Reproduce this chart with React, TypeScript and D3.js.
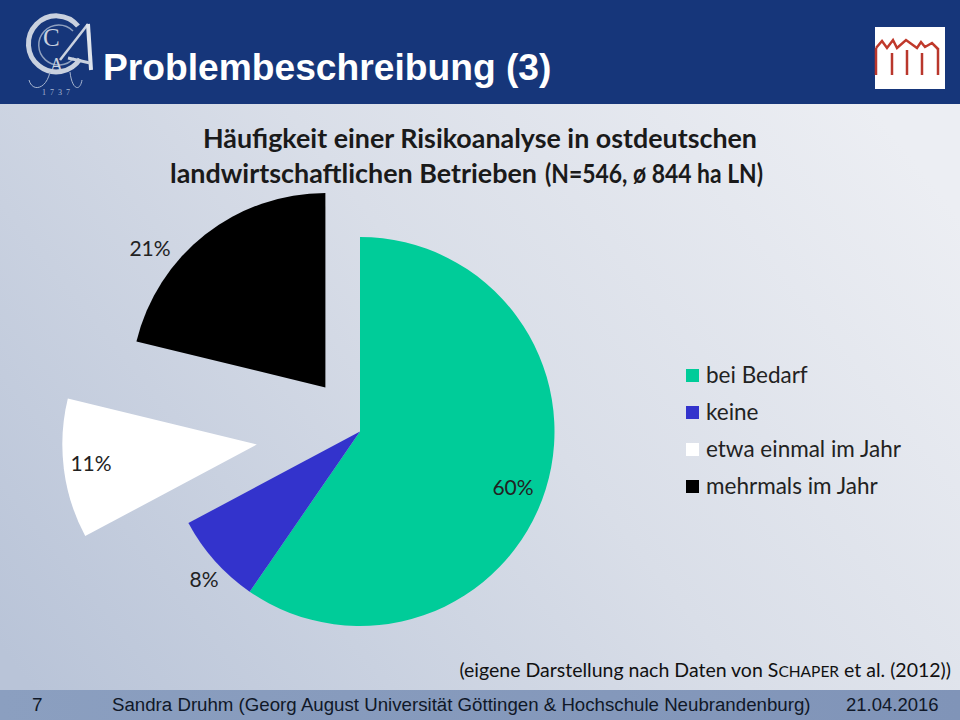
import * as d3 from 'd3';

const categories = ['bei Bedarf', 'keine', 'etwa einmal im Jahr', 'mehrmals im Jahr'];
// shares, the printed labels are rounded
const shares = [59.6, 7.6, 11.6, 21.2];
const labels = ['60%', '8%', '11%', '21%'];
const sliceColors = ['#00cc99', '#3333cc', '#ffffff', '#000000'];
const explode = [0, 0, 104, 56];
const labelPos = [[513, 490], [204, 582], [91, 466], [150, 251]];

const W = 960;
const H = 720;
const cx = 360;
const cy = 431.5;
const radius = 194.5;
const bodyFont = 'Lato, "Open Sans", sans-serif';
const headFont = '"Liberation Sans", Arial, sans-serif';

const pie = d3.pie<number>().sort(null)(shares);
const arc = d3.arc<d3.PieArcDatum<number>>().innerRadius(0).outerRadius(radius);

const legendY = d3.scalePoint<string>().domain(categories).range([376, 487]);

const roofLine = d3.line()([
  [876, 48], [882, 41], [887, 48], [893, 40], [897, 48], [906, 40], [917, 48],
  [921, 42], [925, 47], [932, 43], [938, 49],
]);

function Logo() {
  return (
    <g fill="none">
      <path d="M78 26 A28 28 0 1 0 80 59" stroke="#c9d1df" strokeWidth={5} />
      <path d="M73 31 A20 20 0 1 0 74 58" stroke="#8fa0bf" strokeWidth={1.5} />
      <path d="M88 24 L60 60" stroke="#c9d1df" strokeWidth={2.5} />
      <path d="M88 24 L91 70" stroke="#dfe4ec" strokeWidth={4} />
      <path d="M68 58 L90 63" stroke="#c9d1df" strokeWidth={3} />
      <path d="M29 80 C32 92 46 90 50 72 M70 72 C72 90 80 92 82 80" stroke="#a8b6d0" strokeWidth={1} />
      <text x={43} y={46} fontFamily="Liberation Serif, serif" fontSize={25} fill="#c9d1df">C</text>
      <text x={50} y={71} fontFamily="Liberation Serif, serif" fontSize={18} fill="#c9d1df">A</text>
      <text x={58} y={95} textAnchor="middle" fontFamily="Liberation Serif, serif" fontSize={8} letterSpacing={4} fill="#a8b6d0">1737</text>
    </g>
  );
}

function Wordmark() {
  return (
    <g>
      <rect x={875} y={27} width={70} height={62} fill="#ffffff" />
      <path d={roofLine ?? ''} fill="none" stroke="#c0392b" strokeWidth={2.5} />
      <g stroke="#b9372c" strokeWidth={2.5}>
        {[876, 892, 907, 922, 938].map((x, i) => (
          <line key={x} x1={x} x2={x} y1={i === 0 || i === 4 ? 48 : i === 2 ? 50 : 53} y2={75} />
        ))}
      </g>
    </g>
  );
}

export default function App() {
  return (
    <svg width={W} height={H} style={{ position: 'absolute', left: 0, top: 0 }}>
      <defs>
        <linearGradient id="bg" x1="0" y1="0.9" x2="1" y2="0.3">
          <stop offset="0" stopColor="#b9c4d8" />
          <stop offset="0.55" stopColor="#d9dee8" />
          <stop offset="1" stopColor="#eceef3" />
        </linearGradient>
        <linearGradient id="foot" x1="0" y1="0" x2="1" y2="0">
          <stop offset="0" stopColor="#8b9fc0" />
          <stop offset="1" stopColor="#8094b8" />
        </linearGradient>
      </defs>

      <rect width={W} height={H} fill="url(#bg)" />
      <rect width={W} height={104} fill="#16367a" />
      <rect y={690} width={W} height={30} fill="url(#foot)" />

      <Logo />
      <text x={103} y={80} fontFamily={headFont} fontWeight={700} fontSize={37.2} fill="#ffffff">
        Problembeschreibung (3)
      </text>
      <Wordmark />

      <g fontFamily={bodyFont} fontWeight={700} fontSize={26.5} fill="#1a1a1a">
        <text x={203} y={148} textLength={554} lengthAdjust="spacingAndGlyphs">
          Häufigkeit einer Risikoanalyse in ostdeutschen
        </text>
        <text x={170} y={183} textLength={367} lengthAdjust="spacingAndGlyphs">
          landwirtschaftlichen Betrieben
        </text>
        <text x={545} y={183} textLength={218} lengthAdjust="spacingAndGlyphs">
          (N=546, ø 844 ha LN)
        </text>
      </g>

      {pie.map((d, i) => {
        const mid = (d.startAngle + d.endAngle) / 2;
        const dx = Math.sin(mid) * explode[i];
        const dy = -Math.cos(mid) * explode[i];
        return (
          <path key={categories[i]} d={arc(d) ?? ''} transform={`translate(${cx + dx},${cy + dy})`} fill={sliceColors[i]} />
        );
      })}

      {labels.map((t, i) => (
        <text key={t} x={labelPos[i][0]} y={labelPos[i][1]} textAnchor="middle" dominantBaseline="middle" fontFamily={bodyFont} fontSize={21} fill="#222222">
          {t}
        </text>
      ))}

      {categories.map((c, i) => (
        <g key={c}>
          <rect x={686} y={(legendY(c) ?? 0) - 7} width={13} height={13} fill={sliceColors[i]} />
          <text x={706} y={(legendY(c) ?? 0) + 7} fontFamily={bodyFont} fontSize={22.5} fill="#222222">
            {c}
          </text>
        </g>
      ))}

      <text x={951} y={677} textAnchor="end" fontFamily={bodyFont} fontSize={19.5} fill="#111111">
        (eigene Darstellung nach Daten von S<tspan fontSize={15.5}>CHAPER</tspan> et al. (2012))
      </text>

      <g fontFamily={headFont} fill="#101828">
        <text x={32} y={711} fontSize={19}>7</text>
        <text x={112} y={711} fontSize={18.68}>Sandra Druhm (Georg August Universität Göttingen &amp; Hochschule Neubrandenburg)</text>
        <text x={846} y={711} fontSize={18.5}>21.04.2016</text>
      </g>
    </svg>
  );
}
